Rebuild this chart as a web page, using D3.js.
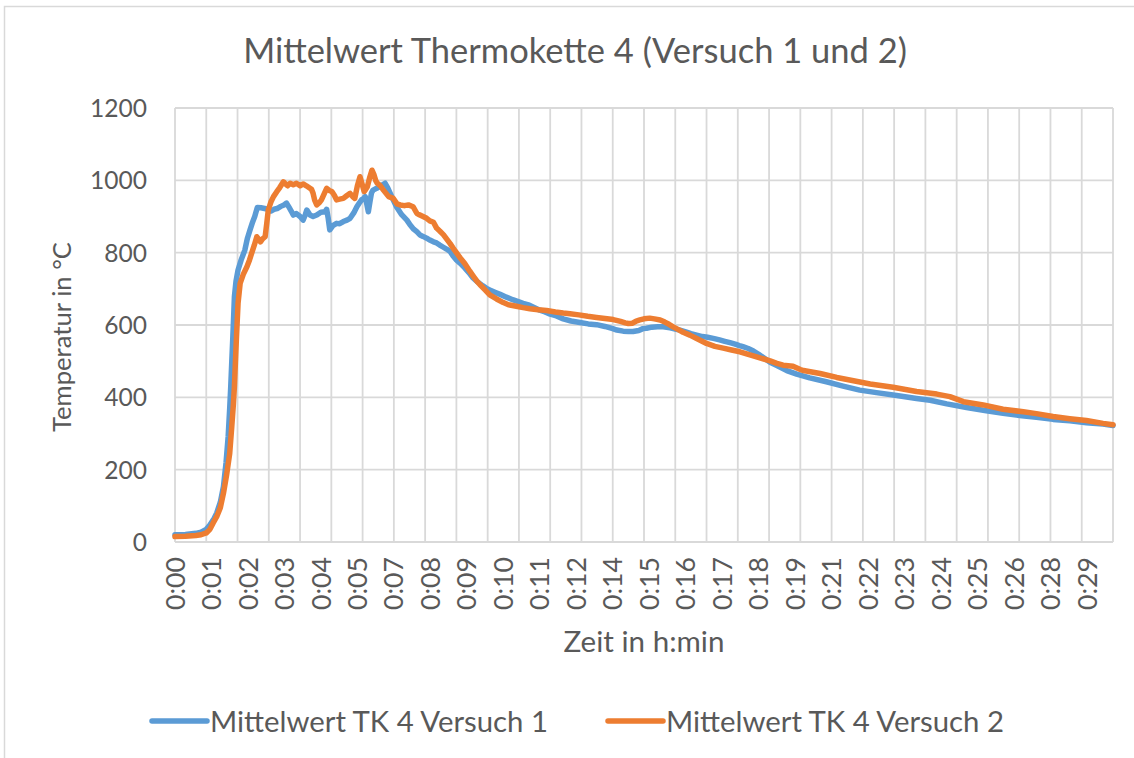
<!DOCTYPE html>
<html>
<head>
<meta charset="utf-8">
<script src="https://cdn.jsdelivr.net/npm/d3@7/dist/d3.min.js"></script>
<style>
  html, body { margin: 0; padding: 0; background: #ffffff; }
  svg { display: block; }
  text { font-family: Lato, "Open Sans", sans-serif; fill: #595959; }
</style>
</head>
<body>
<svg id="chart" width="1134" height="758"></svg>
<script>
// Time axis labels (h:min), one every 70 s
const xTickLabels = ["0:00","0:01","0:02","0:03","0:04","0:05","0:07","0:08","0:09","0:10",
  "0:11","0:12","0:14","0:15","0:16","0:17","0:18","0:19","0:21","0:22","0:23","0:24",
  "0:25","0:26","0:28","0:29"];
const xLabelStepSec = 70;
const yTicks = [0, 200, 400, 600, 800, 1000, 1200];

// Mittelwert TK 4 Versuch 1: time in seconds, temperature in °C
const t1 = [0,20,40,50,60,67,75,80,87,93,98,102,105,107,109,111,113,114,117,121,127,134,139,144,149,153,156,158,
  165,172,178,184,190,196,203,209,214,219,223,227,233,240,246,250,253,259,265,272,280,288,291,294,297,303,310,316,
  323,330,336,343,349,354,358,362,365,368,371,374,377,380,387,395,403,408,413,419,425,435,445,451,458,464,470,476,
  483,489,496,502,508,515,521,528,534,540,547,556,564,572,580,590,597,604,615,625,636,648,656,668,680,690,700,710,
  720,732,745,760,777,793,809,825,840,848,860,870,879,890,898,905,915,926,937,950,960,969,980,990,1001,1012,1022,
  1033,1045,1055,1065,1075,1083,1090,1100,1110,1120,1129,1142,1155,1174,1193,1218,1250,1282,1314,1346,1385,1423,
  1449,1481,1519,1557,1589,1621,1653,1685,1717,1749,1781,1800];
const v1 = [20,21,24,27,35,47,65,80,110,153,220,291,370,430,500,568,640,678,720,752,780,807,840,863,885,900,915,925,
  924,922,920,915,920,922,928,932,937,925,915,904,908,900,890,905,918,904,900,904,912,913,920,895,863,875,881,880,
  886,890,895,910,927,938,946,950,955,935,913,940,965,973,978,985,992,980,964,945,927,905,890,877,865,858,849,845,
  840,835,830,827,821,815,810,803,790,780,771,758,745,730,720,709,702,697,690,684,677,670,666,660,655,648,641,636,
  630,625,617,611,607,603,601,596,590,586,583,582,582,585,590,591,594,595,595,592,589,586,581,576,572,568,566,
  563,559,555,551,547,543,540,535,528,519,510,497,488,474,464,454,443,431,420,413,405,397,
  392,382,372,363,356,350,345,339,335,330,326,322];

// Mittelwert TK 4 Versuch 2: time in seconds, temperature in °C
const t2 = [0,20,40,50,60,67,73,80,87,93,99,105,109,112,114,116,118,121,125,131,138,143,147,152,157,160,164,168,173,
  176,179,184,189,195,201,208,212,216,221,227,233,240,246,252,259,262,265,268,272,277,281,286,291,296,301,306,310,
  316,323,330,336,341,345,350,355,359,363,366,369,374,378,382,385,388,394,400,410,419,426,432,440,448,457,464,470,
  476,483,489,496,502,508,515,528,534,540,547,556,566,573,580,585,595,604,617,630,640,655,668,681,697,713,730,745,
  758,775,792,809,825,841,855,864,870,878,885,892,900,911,920,931,940,948,956,965,975,988,1002,1020,1036,1052,1068,
  1084,1100,1116,1130,1142,1155,1167,1186,1200,1206,1238,1270,1302,1334,1378,1423,1462,1487,1500,1513,1551,1589,
  1628,1653,1685,1717,1749,1781,1800];
const v2 = [15,16,18,20,25,35,52,70,95,135,185,245,320,380,430,500,568,660,715,740,761,780,798,820,844,838,830,838,844,
  880,918,940,955,968,980,996,990,985,992,988,992,985,990,985,978,975,964,945,932,938,946,962,978,972,969,958,946,
  948,950,958,964,955,950,985,1010,990,969,975,982,1010,1028,1015,1000,992,985,973,955,950,935,932,930,932,927,909,904,
  900,895,888,884,868,860,850,825,812,800,786,770,748,734,720,712,697,683,672,662,656,652,648,645,642,640,636,633,
  631,628,624,621,618,615,610,606,604,605,611,614,617,619,617,614,608,602,595,588,580,572,562,549,541,536,531,
  526,519,512,506,501,494,489,486,477,474,466,455,446,437,428,416,409,402,395,388,379,367,
  360,355,347,341,336,328,324];

const seriesNames = ["Mittelwert TK 4 Versuch 1", "Mittelwert TK 4 Versuch 2"];
const seriesColors = ["#5B9BD5", "#ED7D31"];
const series = [
  { name: seriesNames[0], color: seriesColors[0], pts: t1.map((t, i) => [t, v1[i]]) },
  { name: seriesNames[1], color: seriesColors[1], pts: t2.map((t, i) => [t, v2[i]]) }
];

const svg = d3.select("#chart");
const plot = { left: 175, right: 1113, top: 108, bottom: 542 };
const gridColor = "#D9D9D9";

// Outer chart frame
svg.append("rect").attr("x", 4.5).attr("y", 6.5).attr("width", 1140).attr("height", 760)
  .attr("fill", "#fff").attr("stroke", gridColor).attr("stroke-width", 1.5);

const x = d3.scaleLinear().domain([0, 1800]).range([plot.left, plot.right]);
const y = d3.scaleLinear().domain([0, 1200]).range([plot.bottom, plot.top]);

// Scale a text element's font size so that it spans the given width
function fitWidth(sel, width) {
  sel.each(function () {
    const base = 100;
    d3.select(this).style("font-size", base + "px");
    const w = this.getComputedTextLength();
    d3.select(this).style("font-size", (base * width / w) + "px");
  });
  return sel;
}

// Horizontal grid
svg.append("g").attr("class", "hgrid").selectAll("line").data(yTicks).join("line")
  .attr("x1", plot.left).attr("x2", plot.right)
  .attr("y1", d => y(d)).attr("y2", d => y(d))
  .attr("stroke", gridColor).attr("stroke-width", 1.8);

// Vertical grid, one per minute
const minuteTicks = d3.range(0, 1801, 60);
svg.append("g").attr("class", "vgrid").selectAll("line").data(minuteTicks).join("line")
  .attr("x1", d => x(d)).attr("x2", d => x(d))
  .attr("y1", plot.top).attr("y2", plot.bottom)
  .attr("stroke", gridColor).attr("stroke-width", 1.8);

// Y tick labels
const yLab = svg.append("g").selectAll("text").data(yTicks).join("text")
  .attr("x", 147).attr("y", d => y(d)).attr("dy", "0.36em")
  .attr("text-anchor", "end").text(d => d);
yLab.style("font-size", "26px");
fitWidth(d3.select(yLab.nodes()[6]), 57);
yLab.style("font-size", d3.select(yLab.nodes()[6]).style("font-size"));

// X tick labels (rotated)
const xLab = svg.append("g").selectAll("text").data(xTickLabels).join("text")
  .attr("transform", (d, i) => `translate(${x(i * xLabelStepSec)},557) rotate(-90)`)
  .attr("dy", "0.36em").attr("text-anchor", "end").text(d => d);
fitWidth(d3.select(xLab.nodes()[0]), 53);
xLab.style("font-size", d3.select(xLab.nodes()[0]).style("font-size"));

// Lines
const line = d3.line().x(d => x(d[0])).y(d => y(d[1])).curve(d3.curveLinear);
svg.append("g").selectAll("path").data(series).join("path")
  .attr("d", d => line(d.pts))
  .attr("fill", "none").attr("stroke", d => d.color)
  .attr("stroke-width", 5.5).attr("stroke-linejoin", "round").attr("stroke-linecap", "round");

// Title
fitWidth(svg.append("text").attr("x", 575).attr("y", 63).attr("text-anchor", "middle")
  .text("Mittelwert Thermokette 4 (Versuch 1 und 2)"), 664);

// Axis titles
fitWidth(svg.append("text").attr("transform", "translate(62,337) rotate(-90)")
  .attr("text-anchor", "middle").attr("dy", "0.36em").text("Temperatur in °C"), 190);
fitWidth(svg.append("text").attr("x", 644).attr("y", 652).attr("text-anchor", "middle")
  .text("Zeit in h:min"), 161);

// Legend
const legendX = [152, 608];
const legend = svg.append("g").selectAll("g").data(series).join("g")
  .attr("transform", (d, i) => `translate(${legendX[i]},721)`);
legend.append("line").attr("x1", 0).attr("x2", 55).attr("y1", 0).attr("y2", 0)
  .attr("stroke", d => d.color).attr("stroke-width", 5.5).attr("stroke-linecap", "round");
legend.append("text").attr("x", 58).attr("y", 0).attr("dy", "0.36em").text(d => d.name)
  .each(function () { fitWidth(d3.select(this), 338); });
</script>
</body>
</html>
